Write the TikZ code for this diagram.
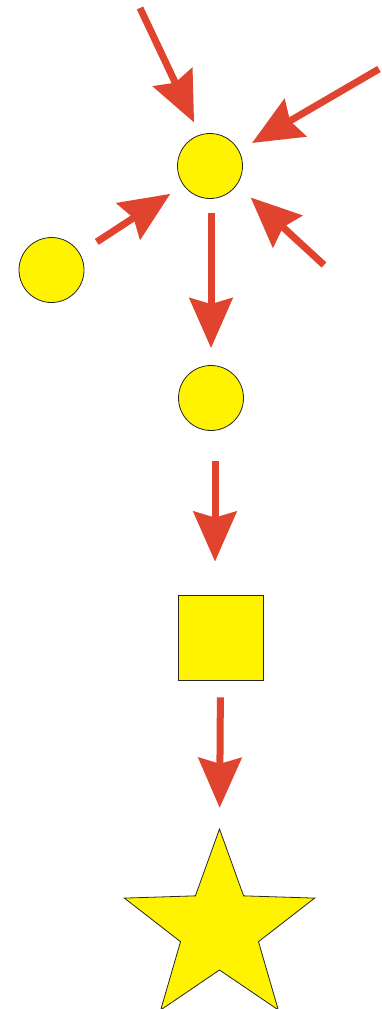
\documentclass[tikz,border=0pt]{standalone}
\usetikzlibrary{arrows.meta,shapes.geometric}
\definecolor{arred}{RGB}{224,67,46}
\definecolor{shapeyel}{RGB}{255,243,0}
\tikzset{
  shp/.style={draw=black!85, line width=0.8pt, fill=shapeyel, inner sep=0pt},
  rnd/.style={shp, circle, minimum size=65pt},
  arr/.style={draw=arred, line width=7pt, -{Stealth[length=50pt, width=43pt, inset=6pt, fill=arred]}}
}
\begin{document}
\begin{tikzpicture}[x=1pt,y=-1pt]
\useasboundingbox (0,0) rectangle (382,1009);
\node[rnd] (c1) at (210,166) {};
\node[rnd] (c0) at (51.5,270) {};
\node[rnd] (c2) at (211,398) {};
\node[shp, minimum size=85pt] (sq) at (220.5,637.5) {};
\node[shp, star, star points=5, star point ratio=2.44, minimum size=200pt] (st) at (219.5,929) {};
\coordinate (tA) at (140,8);
\coordinate (tB) at (379,69);
\coordinate (tC) at (324,265);
\draw[arr, shorten >=13.5pt] (tA) -- (c1.108.8);
\draw[arr, shorten >=15pt] (tB) -- (c1.28.7);
\draw[arr, shorten >=18.6pt] (tC) -- (c1.-35.5);
\draw[arr, shorten <=20.4pt, shorten >=15.6pt] (c0.31.6) -- (c1.216.6);
\draw[arr, shorten <=14pt, shorten >=17pt] ([xshift=1pt]c1.south) -- (c2.north);
\draw[arr, shorten <=30pt, shorten >=33pt] ([xshift=4pt]c2.south) -- ([xshift=-5.5pt]sq.north);
\draw[arr, shorten <=17pt, shorten >=20pt] (sq.south) -- (st.north);
\end{tikzpicture}
\end{document}
